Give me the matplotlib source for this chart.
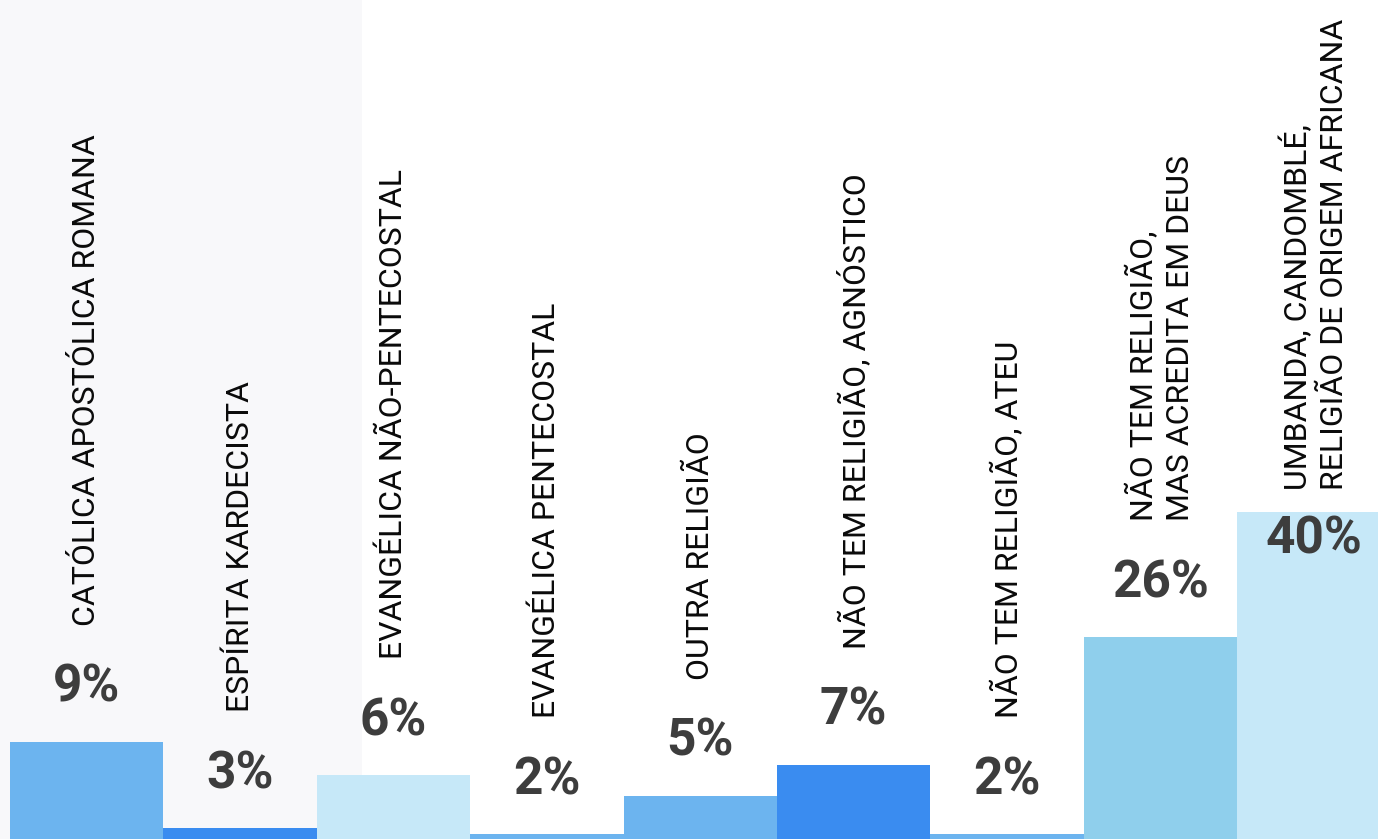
import matplotlib.pyplot as plt
from matplotlib.patches import Rectangle

# Categories, bar heights and printed percentages
categories = [
    "CATÓLICA APOSTÓLICA ROMANA",
    "ESPÍRITA KARDECISTA",
    "EVANGÉLICA NÃO-PENTECOSTAL",
    "EVANGÉLICA PENTECOSTAL",
    "OUTRA RELIGIÃO",
    "NÃO TEM RELIGIÃO, AGNÓSTICO",
    "NÃO TEM RELIGIÃO, ATEU",
    "NÃO TEM RELIGIÃO,\nMAS ACREDITA EM DEUS",
    "UMBANDA, CANDOMBLÉ,\nRELIGIÃO DE ORIGEM AFRICANA",
]
bar_values = [11.9, 1.3, 7.8, 0.6, 5.3, 9.1, 0.6, 24.7, 40.0]
pct_labels = ["9%", "3%", "6%", "2%", "5%", "7%", "2%", "26%", "40%"]
colors = ["#6cb4ef", "#3a8cf0", "#c6e8f8", "#6cb4ef", "#6cb4ef",
          "#3a8cf0", "#6cb4ef", "#8fcfec", "#c6e8f8"]

W, H = 1378, 839
fig = plt.figure(figsize=(W / 100, H / 100), dpi=100)
fig.patch.set_facecolor("white")

ax = fig.add_axes([0, 0, 1, 1])
ax.patch.set_alpha(0)
# faint grey panel on the left
ax.add_patch(Rectangle((0, 0), 362 / W, 1, transform=ax.transAxes,
                       facecolor="#f8f8fa", edgecolor="none", zorder=0))

bar_px = 153.4
left = -0.5 - 10 / bar_px
ax.set_xlim(left, left + W / bar_px)
ax.set_ylim(0, H / (327 / 40))
ax.axis("off")

x = list(range(len(categories)))
ax.bar(x, bar_values, width=1.0, color=colors, linewidth=0, zorder=2)

px = 72 / 100  # points per pixel
top_value = max(bar_values)
for i, (v, pct, cat) in enumerate(zip(bar_values, pct_labels, categories)):
    if v == top_value:
        val_off, cat_off = -28, 22
    else:
        val_off, cat_off = 54, 116
    ax.annotate(pct, (i, v), xytext=(0, val_off * px), textcoords="offset points",
                ha="center", va="center", fontsize=37, fontweight="bold",
                family="Roboto", color="#3d3d3d", zorder=3)
    ax.annotate(cat, (i, v), xytext=(0, cat_off * px), textcoords="offset points",
                ha="center", va="bottom", rotation=90, fontsize=23,
                family="Roboto", color="#0a0a0a", linespacing=1.3,
                multialignment="left", zorder=3)

fig.savefig("out.png", dpi=100)
